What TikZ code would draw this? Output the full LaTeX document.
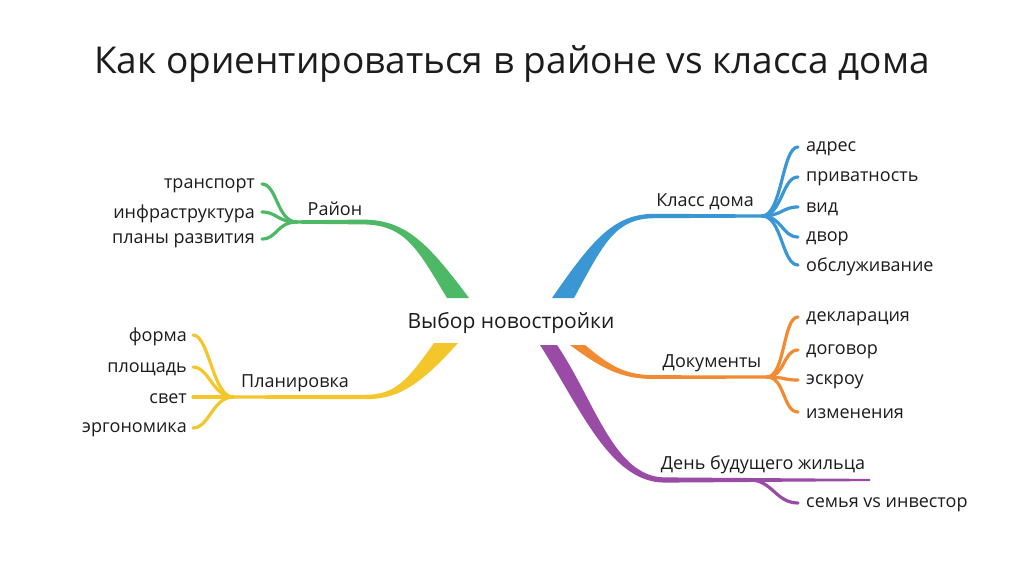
\documentclass[tikz,border=0pt]{standalone}
\usepackage{fontspec}
\setmainfont{Open Sans}
\definecolor{ink}{HTML}{1C1C1C}
\definecolor{cgreen}{HTML}{4DB865}
\definecolor{cblue}{HTML}{3A97D4}
\definecolor{cyellow}{HTML}{F3C72B}
\definecolor{corange}{HTML}{F28A32}
\definecolor{cpurple}{HTML}{9A4BA6}
\begin{document}
\begin{tikzpicture}[x=1pt,y=-1pt,
  every node/.style={inner sep=0pt, text=ink},
  leafL/.style={font=\fontsize{18}{21}\selectfont, anchor=east},
  leafR/.style={font=\fontsize{18}{21}\selectfont, anchor=west},
  lbl/.style={font=\fontsize{18}{21}\selectfont},
  twig/.style={line width=3.2pt, line cap=round},
]
\useasboundingbox (0,0) rectangle (1024,572);
\fill[white] (0,0) rectangle (1024,572);

% title
\node[font=\fontsize{37}{44}\selectfont] (title) at (512,64) {Как ориентироваться в районе vs класса дома};

% hubs and leaf ends
\coordinate (hG) at (297,222);
\coordinate (hB) at (762,216);
\coordinate (hY) at (233,397);
\coordinate (hO) at (767,377);
\coordinate (hP) at (750,480);
\coordinate (eP) at (870,480);

% main tapered branches
\fill[cgreen] (447,298) .. controls (417,248) and (405,224.4) .. (362,224.4) -- (297,223.7) -- (297,220.3) -- (362,219.6) .. controls (405,219.6) and (427,241.6) .. (469,298) -- cycle;
\fill[cblue] (552,298) .. controls (594,237) and (615,213.8) .. (655,213.8) -- (762,214.4) -- (762,217.6) -- (655,218.2) .. controls (615,218.2) and (604,243) .. (574,298) -- cycle;
\fill[cyellow] (434,343) .. controls (407,381) and (395,394.8) .. (365,394.8) -- (233,395.4) -- (233,398.6) -- (365,399.2) .. controls (395,399.2) and (417,389) .. (458,343) -- cycle;
\fill[corange] (570,345) .. controls (606,372) and (625,379) .. (655,379) -- (767,378.6) -- (767,375.4) -- (655,375.2) .. controls (625,375.2) and (610,366) .. (585,345) -- cycle;
\fill[cpurple] (540,345) .. controls (581,409) and (610,482.6) .. (665,482.6) -- (870,481.1) -- (870,478.9) -- (665,477.4) .. controls (614,477.4) and (595,401) .. (557,345) -- cycle;

% twigs
\foreach \y/\n in {184/g1,212/g2,239/g3}{
  \coordinate (\n) at (262,\y);
  \draw[cgreen,twig] (hG) .. controls +(-20,0) and +(15,0) .. (\n);}
\foreach \y/\n in {147/b1,177/b2,207/b3,237/b4,265/b5}{
  \coordinate (\n) at (798,\y);
  \draw[cblue,twig] (hB) .. controls +(20,0) and +(-16,0) .. (\n);}
\foreach \y/\n in {335/y1,367/y2,397/y3,428/y4}{
  \coordinate (\n) at (193,\y);
  \draw[cyellow,twig] (hY) .. controls +(-20,0) and +(16,0) .. (\n);}
\foreach \y/\n in {317/o1,350/o2,380/o3,412/o4}{
  \coordinate (\n) at (798,\y);
  \draw[corange,twig] (hO) .. controls +(18,0) and +(-15,0) .. (\n);}
\coordinate (p1) at (798,503);
\draw[cpurple,twig] (hP) .. controls +(22,0) and +(-22,0) .. (p1);

% texts
\node[font=\fontsize{21}{25}\selectfont] (root) at (511,323) {Выбор новостройки};
\node[lbl] (rayon) at (335,209) {Район};
\node[lbl] (klass) at (705,202) {Класс дома};
\node[lbl] (plan) at (295,383) {Планировка};
\node[lbl] (docs) at (712,363) {Документы};
\node[lbl] (den) at (763,465) {День будущего жильца};

\node[leafL] (t1) at (255,186) {транспорт};
\node[leafL] (t2) at (255,214) {инфраструктура};
\node[leafL] (t3) at (255,241) {планы развития};

\node[leafR] (k1) at (806,149) {адрес};
\node[leafR] (k2) at (806,179) {приватность};
\node[leafR] (k3) at (806,209) {вид};
\node[leafR] (k4) at (806,239) {двор};
\node[leafR] (k5) at (806,267) {обслуживание};

\node[leafL] (f1) at (187,337) {форма};
\node[leafL] (f2) at (187,369) {площадь};
\node[leafL] (f3) at (187,399) {свет};
\node[leafL] (f4) at (187,430) {эргономика};

\node[leafR] (d1) at (806,319) {декларация};
\node[leafR] (d2) at (806,352) {договор};
\node[leafR] (d3) at (806,382) {эскроу};
\node[leafR] (d4) at (806,414) {изменения};

\node[leafR] (s1) at (806,505) {семья vs инвестор};
\end{tikzpicture}
\end{document}
